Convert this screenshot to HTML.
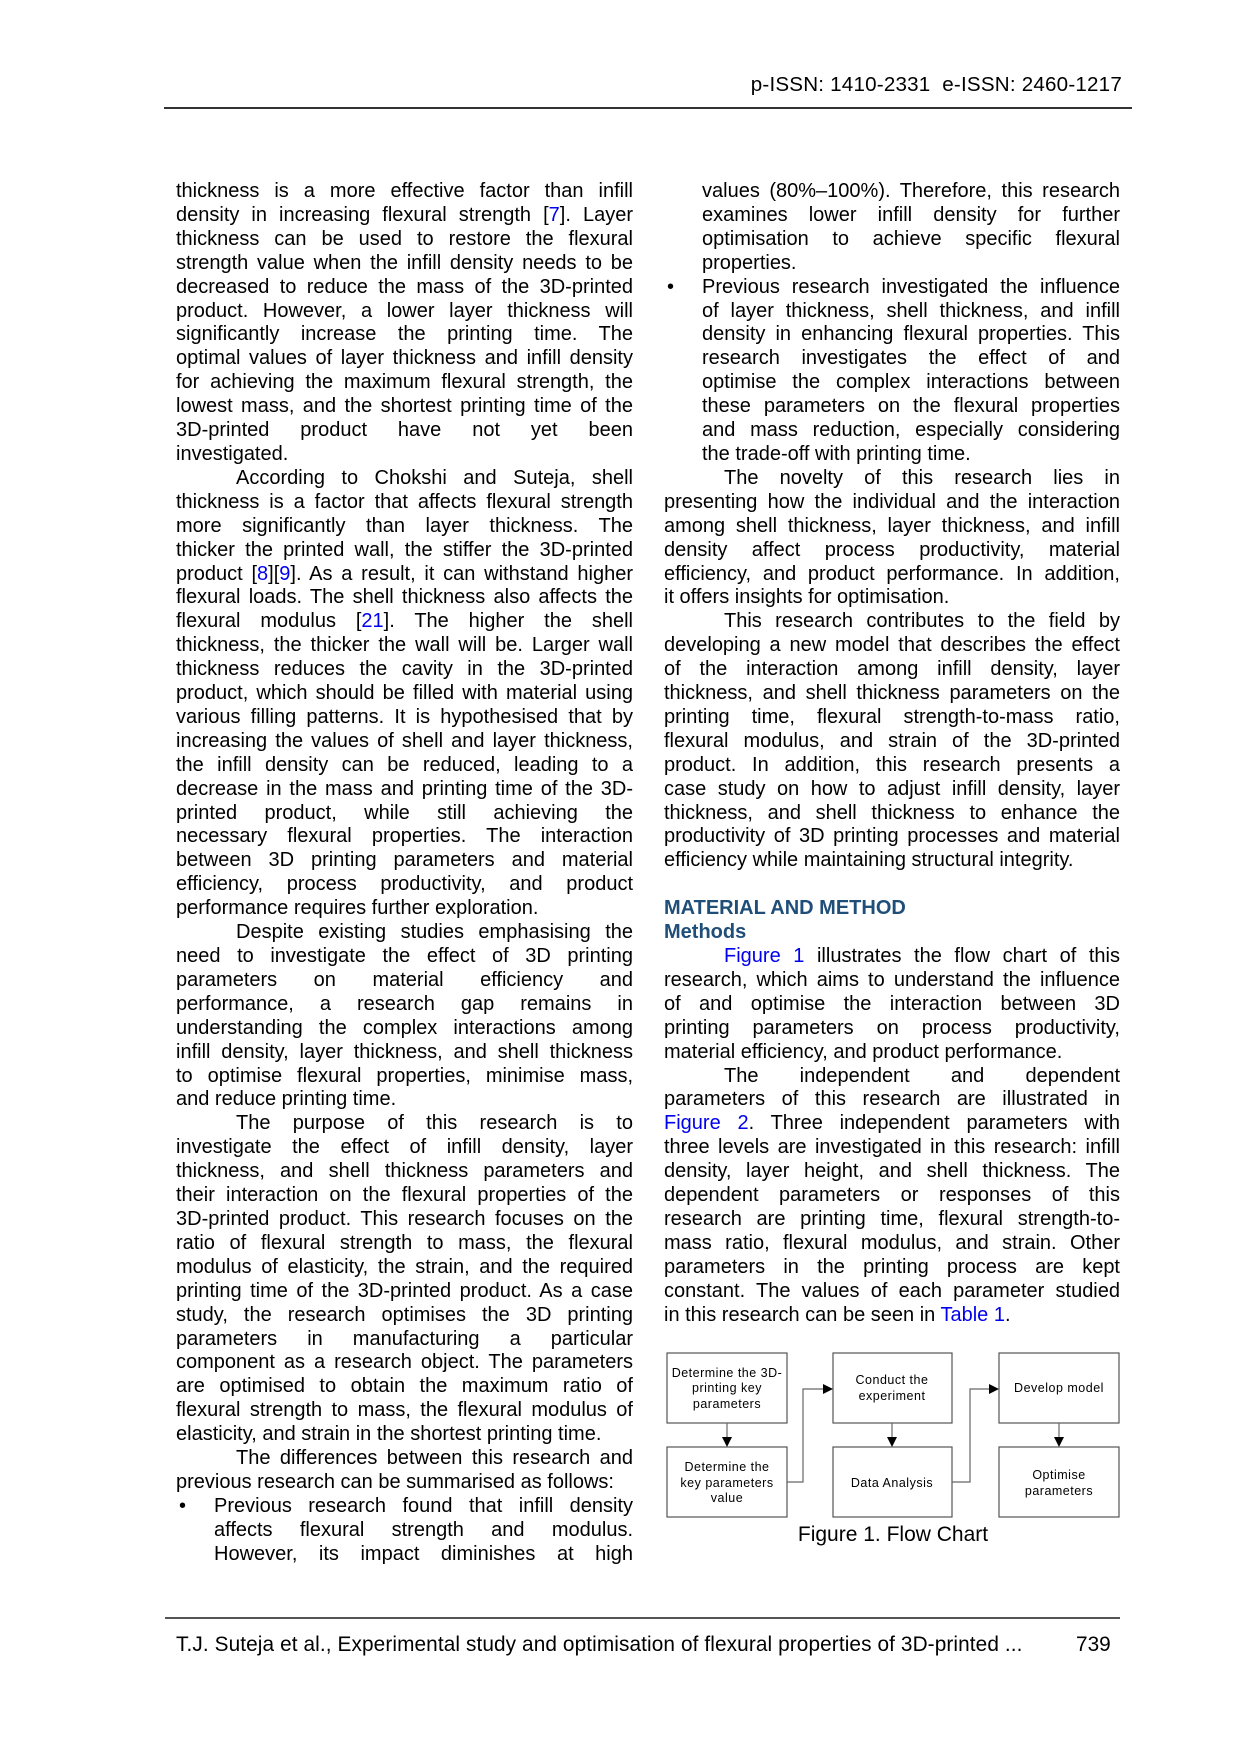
<!DOCTYPE html>
<html><head><meta charset="utf-8"><style>
body{margin:0;background:#fff;}
#p{position:relative;width:1240px;height:1754px;overflow:hidden;font-family:"Liberation Sans",Arial,sans-serif;color:#000;}
.col{position:absolute;top:180px;font-size:20px;}
.col div{height:23.92px;line-height:23.92px;white-space:nowrap;}
.j{text-align:justify;text-align-last:justify;}
.l{text-align:left;}
.i{padding-left:60px;}
.b{padding-left:38px;position:relative;}
.b.bu::before{content:"\2022";position:absolute;left:3px;}
a,.a{color:#0000ee;text-decoration:none;}
.h{color:#1f4e79;font-weight:bold;font-size:20px;}
</style></head><body><div id="p">
<div style="position:absolute;right:118px;top:73px;font-size:20.6px;letter-spacing:0.2px">p-ISSN: 1410-2331&nbsp; e-ISSN: 2460-1217</div>
<div style="position:absolute;left:164px;top:107px;width:968px;height:1.5px;background:#333"></div>

<div class="col" style="left:176px;width:457px">
<div class="j">thickness is a more effective factor than infill</div>
<div class="j">density in increasing flexural strength [<span class="a">7</span>]. Layer</div>
<div class="j">thickness can be used to restore the flexural</div>
<div class="j">strength value when the infill density needs to be</div>
<div class="j">decreased to reduce the mass of the 3D-printed</div>
<div class="j">product. However, a lower layer thickness will</div>
<div class="j">significantly increase the printing time. The</div>
<div class="j">optimal values of layer thickness and infill density</div>
<div class="j">for achieving the maximum flexural strength, the</div>
<div class="j">lowest mass, and the shortest printing time of the</div>
<div class="j">3D-printed product have not yet been</div>
<div class="l">investigated.</div>
<div class="j i">According to Chokshi and Suteja, shell</div>
<div class="j">thickness is a factor that affects flexural strength</div>
<div class="j">more significantly than layer thickness. The</div>
<div class="j">thicker the printed wall, the stiffer the 3D-printed</div>
<div class="j">product [<span class="a">8</span>][<span class="a">9</span>]. As a result, it can withstand higher</div>
<div class="j">flexural loads. The shell thickness also affects the</div>
<div class="j">flexural modulus [<span class="a">21</span>]. The higher the shell</div>
<div class="j">thickness, the thicker the wall will be. Larger wall</div>
<div class="j">thickness reduces the cavity in the 3D-printed</div>
<div class="j">product, which should be filled with material using</div>
<div class="j">various filling patterns. It is hypothesised that by</div>
<div class="j">increasing the values of shell and layer thickness,</div>
<div class="j">the infill density can be reduced, leading to a</div>
<div class="j">decrease in the mass and printing time of the 3D-</div>
<div class="j">printed product, while still achieving the</div>
<div class="j">necessary flexural properties. The interaction</div>
<div class="j">between 3D printing parameters and material</div>
<div class="j">efficiency, process productivity, and product</div>
<div class="l">performance requires further exploration.</div>
<div class="j i">Despite existing studies emphasising the</div>
<div class="j">need to investigate the effect of 3D printing</div>
<div class="j">parameters on material efficiency and</div>
<div class="j">performance, a research gap remains in</div>
<div class="j">understanding the complex interactions among</div>
<div class="j">infill density, layer thickness, and shell thickness</div>
<div class="j">to optimise flexural properties, minimise mass,</div>
<div class="l">and reduce printing time.</div>
<div class="j i">The purpose of this research is to</div>
<div class="j">investigate the effect of infill density, layer</div>
<div class="j">thickness, and shell thickness parameters and</div>
<div class="j">their interaction on the flexural properties of the</div>
<div class="j">3D-printed product. This research focuses on the</div>
<div class="j">ratio of flexural strength to mass, the flexural</div>
<div class="j">modulus of elasticity, the strain, and the required</div>
<div class="j">printing time of the 3D-printed product. As a case</div>
<div class="j">study, the research optimises the 3D printing</div>
<div class="j">parameters in manufacturing a particular</div>
<div class="j">component as a research object. The parameters</div>
<div class="j">are optimised to obtain the maximum ratio of</div>
<div class="j">flexural strength to mass, the flexural modulus of</div>
<div class="l">elasticity, and strain in the shortest printing time.</div>
<div class="j i">The differences between this research and</div>
<div class="l">previous research can be summarised as follows:</div>
<div class="j b bu">Previous research found that infill density</div>
<div class="j b">affects flexural strength and modulus.</div>
<div class="j b">However, its impact diminishes at high</div>
</div>

<div class="col" style="left:664px;width:456px">
<div class="j b">values (80%–100%). Therefore, this research</div>
<div class="j b">examines lower infill density for further</div>
<div class="j b">optimisation to achieve specific flexural</div>
<div class="l b">properties.</div>
<div class="j b bu">Previous research investigated the influence</div>
<div class="j b">of layer thickness, shell thickness, and infill</div>
<div class="j b">density in enhancing flexural properties. This</div>
<div class="j b">research investigates the effect of and</div>
<div class="j b">optimise the complex interactions between</div>
<div class="j b">these parameters on the flexural properties</div>
<div class="j b">and mass reduction, especially considering</div>
<div class="l b">the trade-off with printing time.</div>
<div class="j i">The novelty of this research lies in</div>
<div class="j">presenting how the individual and the interaction</div>
<div class="j">among shell thickness, layer thickness, and infill</div>
<div class="j">density affect process productivity, material</div>
<div class="j">efficiency, and product performance. In addition,</div>
<div class="l">it offers insights for optimisation.</div>
<div class="j i">This research contributes to the field by</div>
<div class="j">developing a new model that describes the effect</div>
<div class="j">of the interaction among infill density, layer</div>
<div class="j">thickness, and shell thickness parameters on the</div>
<div class="j">printing time, flexural strength-to-mass ratio,</div>
<div class="j">flexural modulus, and strain of the 3D-printed</div>
<div class="j">product. In addition, this research presents a</div>
<div class="j">case study on how to adjust infill density, layer</div>
<div class="j">thickness, and shell thickness to enhance the</div>
<div class="j">productivity of 3D printing processes and material</div>
<div class="l">efficiency while maintaining structural integrity.</div>
<div></div>
<div class="h">MATERIAL AND METHOD</div>
<div class="h">Methods</div>
<div class="j i"><span class="a">Figure 1</span> illustrates the flow chart of this</div>
<div class="j">research, which aims to understand the influence</div>
<div class="j">of and optimise the interaction between 3D</div>
<div class="j">printing parameters on process productivity,</div>
<div class="l">material efficiency, and product performance.</div>
<div class="j i">The independent and dependent</div>
<div class="j">parameters of this research are illustrated in</div>
<div class="j"><span class="a">Figure 2</span>. Three independent parameters with</div>
<div class="j">three levels are investigated in this research: infill</div>
<div class="j">density, layer height, and shell thickness. The</div>
<div class="j">dependent parameters or responses of this</div>
<div class="j">research are printing time, flexural strength-to-</div>
<div class="j">mass ratio, flexural modulus, and strain. Other</div>
<div class="j">parameters in the printing process are kept</div>
<div class="j">constant. The values of each parameter studied</div>
<div class="l">in this research can be seen in <span class="a">Table 1</span>.</div>
</div>

<svg style="position:absolute;left:0;top:0" width="1240" height="1754" font-family="Liberation Sans, Arial, sans-serif" font-size="12.5" letter-spacing="0.5" text-anchor="middle">
<g fill="#fff" stroke="#555" stroke-width="1.2">
<rect x="667" y="1353" width="120" height="70"/>
<rect x="667" y="1447" width="120" height="70"/>
<rect x="833" y="1353" width="119" height="70"/>
<rect x="833" y="1447" width="119" height="70"/>
<rect x="999" y="1353" width="120" height="70"/>
<rect x="999" y="1447" width="120" height="70"/>
</g>
<g stroke="#666" stroke-width="1.2" fill="none">
<polyline points="787,1482 803,1482 803,1389 824,1389"/>
<polyline points="952,1482 970,1482 970,1389 990,1389"/>
<line x1="727" y1="1423" x2="727" y2="1438"/>
<line x1="892" y1="1423" x2="892" y2="1438"/>
<line x1="1059" y1="1423" x2="1059" y2="1438"/>
</g>
<g fill="#000">
<polygon points="833,1389 823,1384 823,1394"/>
<polygon points="999,1389 989,1384 989,1394"/>
<polygon points="727,1447 722,1437 732,1437"/>
<polygon points="892,1447 887,1437 897,1437"/>
<polygon points="1059,1447 1054,1437 1064,1437"/>
</g>
<text x="727" y="1377">Determine the 3D-</text>
<text x="727" y="1392">printing key</text>
<text x="727" y="1408">parameters</text>
<text x="727" y="1471">Determine the</text>
<text x="727" y="1487">key parameters</text>
<text x="727" y="1502">value</text>
<text x="892" y="1384">Conduct the</text>
<text x="892" y="1400">experiment</text>
<text x="892" y="1487">Data Analysis</text>
<text x="1059" y="1392">Develop model</text>
<text x="1059" y="1479">Optimise</text>
<text x="1059" y="1495">parameters</text>
<text x="893" y="1541" font-size="21" letter-spacing="0">Figure 1. Flow Chart</text>
</svg>

<div style="position:absolute;left:165px;top:1617px;width:955px;height:1.5px;background:#555"></div>
<div style="position:absolute;left:176px;top:1633px;font-size:20.8px;letter-spacing:0.1px">T.J. Suteja et al., Experimental study and optimisation of flexural properties of 3D-printed ...</div>
<div style="position:absolute;left:1076px;top:1633px;font-size:20.8px">739</div>
</div></body></html>
